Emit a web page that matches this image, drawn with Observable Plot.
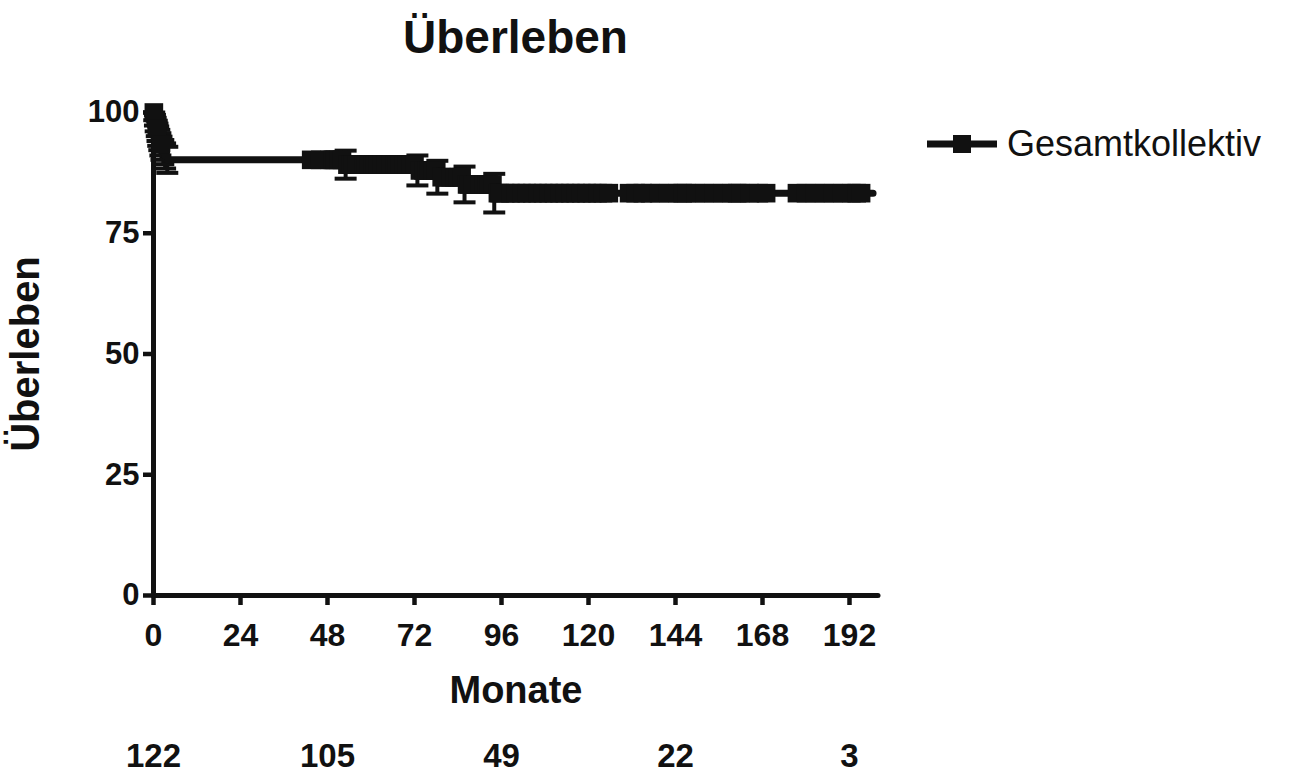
<!DOCTYPE html>
<html>
<head>
<meta charset="utf-8">
<script src="https://cdn.jsdelivr.net/npm/d3@7"></script>
<script src="https://cdn.jsdelivr.net/npm/@observablehq/plot@0.6"></script>
<style>
  html, body { margin: 0; padding: 0; background: #fff; }
  body { width: 1294px; height: 776px; position: relative; overflow: hidden; font-family: "Liberation Sans", Arial, sans-serif; color: #111; }
  #title { position: absolute; left: 0; top: 11px; width: 1031px; text-align: center; font-size: 46px; font-weight: bold; line-height: 1.15; }
  #chart { position: absolute; left: 0; top: 70px; }
  #legend { position: absolute; left: 924px; top: 121px; display: flex; align-items: center; }
  #legend span { font-size: 36px; margin-left: 7px; line-height: 46px; }
</style>
</head>
<body>
<div id="title">Überleben</div>
<div id="chart"></div>
<div id="legend">
  <svg width="76" height="30" viewBox="0 0 76 30">
    <line x1="3" x2="73" y1="15" y2="15" stroke="#111" stroke-width="7"></line>
    <rect x="29" y="6" width="18" height="18" fill="#111"></rect>
  </svg>
  <span>Gesamtkollektiv</span>
</div>
<script>
// ---- Data ----
const seriesName = "Gesamtkollektiv";
const xTicks = [0, 24, 48, 72, 96, 120, 144, 168, 192];
const yTicks = [0, 25, 50, 75, 100];

// Kaplan-Meier events (months), survival (%) after event, standard error (%)
const eventTimes = [0.2, 0.4, 0.6, 0.9, 1.1, 1.3, 1.6, 1.9, 2.2, 2.7, 3.2, 3.8, 53, 72.8, 78.3, 85.8, 94];
const eventSurv  = [99.2, 98.4, 97.5, 96.7, 95.9, 95.1, 94.3, 93.4, 92.6, 91.8, 91.0, 90.2, 89.2, 88.0, 86.6, 85.1, 83.3];
const eventSE    = [0.8, 1.1, 1.4, 1.6, 1.8, 2.0, 2.1, 2.3, 2.4, 2.5, 2.6, 2.7, 2.9, 3.1, 3.4, 3.7, 4.0];
const lastFollowUp = 198.5;

// Censored observations (months)
const censorTimes = [
  0.1, 0.9, 2.0, 43.5, 46,
  48.5, 49.5, 50, 51, 52, 53.5, 54.5, 55, 56, 57, 58, 58.5, 59.5, 60.5, 61,
  62, 63, 64, 64.5, 65.5, 66.5, 67, 68, 69, 70, 71, 72, 73.5, 74.5, 75.5,
  76, 77, 78, 79.5, 80.5, 81, 82, 83, 84, 85, 86.5, 87, 88, 89, 90, 91, 92,
  92.5, 93.5, 95, 95.5,
  97, 98.5, 100, 101.5, 103, 104.5, 106, 107.5, 109, 110.5, 112, 113.5, 115,
  116.5, 118, 119.5, 121, 122.5, 124, 125.6, 131.2, 133, 135, 137, 139.5, 142,
  144.5, 146, 147, 149.5, 152, 154.5, 157, 159.5, 161, 162, 164.5, 167, 169,
  177.5, 180, 182.5, 185, 187.5, 190,
  192.5, 194, 195.2
];

// Numbers at risk
const riskTimes = [0, 48, 96, 144, 192];
const riskCounts = [122, 105, 49, 22, 3];

// ---- Build tables for the library ----
const events = eventTimes.map((t, i) => ({t, s: eventSurv[i], lo: eventSurv[i] - eventSE[i], hi: eventSurv[i] + eventSE[i]}));
const stepLine = [{t: 0, s: 100}, ...events.map(d => ({t: d.t, s: d.s})), {t: lastFollowUp, s: eventSurv[eventSurv.length - 1]}];
function survAt(t) {
  let s = 100;
  for (const e of events) if (e.t <= t) s = e.s;
  return s;
}
const censored = censorTimes.map(t => ({t, s: survAt(t)}));
const risk = riskTimes.map((t, i) => ({t, n: String(riskCounts[i])}));

const capSymbol = {
  draw(ctx, size) {
    const r = Math.sqrt(size / Math.PI);
    ctx.moveTo(-r, 0);
    ctx.lineTo(r, 0);
  }
};

const ink = "#111";
const chart = Plot.plot({
  width: 1294,
  height: 706,
  marginTop: 42,
  marginBottom: 181,
  marginLeft: 153,
  marginRight: 416,
  x: {domain: [0, 200]},
  y: {domain: [0, 100]},
  style: {fontFamily: "'Liberation Sans', Arial, sans-serif", color: ink, background: "transparent", overflow: "visible"},
  marks: [
    Plot.axisY({ticks: yTicks, tickSize: 10, strokeWidth: 4.5, fontSize: 31, fontWeight: "bold", tickPadding: 4, label: null}),
    Plot.axisX({ticks: xTicks, tickSize: 10, strokeWidth: 4.5, fontSize: 32, fontWeight: "bold", tickPadding: 18, label: null}),
    Plot.ruleY([0], {stroke: ink, strokeWidth: 5, strokeLinecap: "round"}),
    Plot.ruleX([0], {stroke: ink, strokeWidth: 5}),
    // error bars
    Plot.ruleX(events, {x: "t", y1: "lo", y2: "hi", stroke: ink, strokeWidth: 4}),
    Plot.dot(events, {x: "t", y: "lo", symbol: capSymbol, r: 11, stroke: ink, strokeWidth: 4, fill: "none"}),
    Plot.dot(events, {x: "t", y: "hi", symbol: capSymbol, r: 11, stroke: ink, strokeWidth: 4, fill: "none"}),
    // survival curve
    Plot.line(stepLine, {x: "t", y: "s", curve: "step-after", stroke: ink, strokeWidth: 7, strokeLinecap: "round"}),
    // censor marks
    Plot.dot(censored, {x: "t", y: "s", symbol: "square", r: 10.5, fill: ink, stroke: "none"}),
    // axis titles
    Plot.text(["Monate"], {frameAnchor: "bottom", dy: 95, lineAnchor: "middle", textAnchor: "middle", fontSize: 38, fontWeight: "bold", fill: ink}),
    Plot.text(["Überleben"], {frameAnchor: "left", dx: -127, rotate: -90, lineAnchor: "middle", textAnchor: "middle", fontSize: 40, fontWeight: "bold", fill: ink}),
    // numbers at risk
    Plot.text(risk, {x: "t", text: "n", frameAnchor: "bottom", dy: 161, lineAnchor: "middle", textAnchor: "middle", fontSize: 33, fontWeight: "bold", fill: ink})
  ]
});
document.getElementById("chart").appendChild(chart);
</script>
</body>
</html>
